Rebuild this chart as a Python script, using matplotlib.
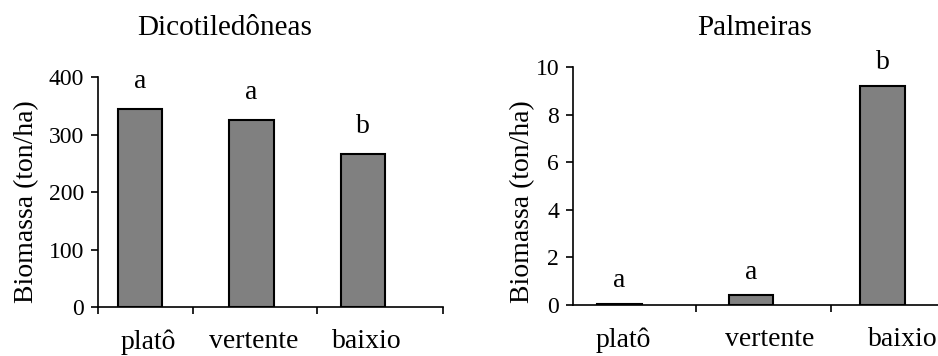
import matplotlib
matplotlib.use('Agg')
import matplotlib.pyplot as plt

# dados
categorias = ['platô', 'vertente', 'baixio']
dicot = [345, 325, 267]
dicot_letras = ['a', 'a', 'b']
palm = [0.05, 0.4, 9.2]
palm_letras = ['a', 'a', 'b']

plt.rcParams['font.family'] = ['Liberation Serif', 'DejaVu Serif']

fig = plt.figure(figsize=(9.38, 3.56), dpi=100)

ax1 = fig.add_axes([0.1045, 0.1376, 0.368, 0.646])
ax2 = fig.add_axes([0.611, 0.1433, 0.389, 0.6685])

def desenha(ax, valores, letras, largura, xlim, ylim, yticks, limites, pos_rot, desloc):
    pos = range(len(valores))
    ax.bar(pos, valores, width=largura, color='#808080', edgecolor='black', linewidth=1.5)
    for p, v, l in zip(pos, valores, letras):
        ax.annotate(l, (p, v), xytext=(0, desloc), textcoords='offset points',
                    ha='center', va='baseline', fontsize=20)
    ax.set_xlim(*xlim)
    ax.set_ylim(*ylim)
    ax.set_yticks(yticks)
    ax.set_xticks(limites)
    ax.set_xticklabels([])
    ax.set_xticks(pos_rot, categorias, minor=True)
    ax.tick_params(axis='x', which='major', direction='out', length=5, width=1.2)
    ax.tick_params(axis='x', which='minor', length=0, pad=16, labelsize=20)
    ax.tick_params(axis='y', direction='out', length=5, width=1.2, labelsize=17, pad=5)
    for s in ['top', 'right']:
        ax.spines[s].set_visible(False)
    for s in ['left', 'bottom']:
        ax.spines[s].set_linewidth(1.2)

desenha(ax1, dicot, dicot_letras, 0.4, (-0.377, 2.72), (0, 400), [0, 100, 200, 300, 400],
        [-0.377, 0.475, 1.59, 2.72], [0.07, 1.02, 2.03], 15)
desenha(ax2, palm, palm_letras, 0.34, (-0.35, 2.42), (0, 10), [0, 2, 4, 6, 8, 10],
        [0.58, 1.61], [0.03, 1.14, 2.15], 12)

fig.text(225 / 938, 1 - 28 / 356, 'Dicotiledôneas', ha='center', va='center', fontsize=21)
fig.text(755 / 938, 1 - 28 / 356, 'Palmeiras', ha='center', va='center', fontsize=21)
fig.text(27 / 938, 1 - 202 / 356, 'Biomassa (ton/ha)', rotation=90, ha='center', va='center', fontsize=20)
fig.text(523 / 938, 1 - 202 / 356, 'Biomassa (ton/ha)', rotation=90, ha='center', va='center', fontsize=20)

fig.savefig('out.png', dpi=100)
